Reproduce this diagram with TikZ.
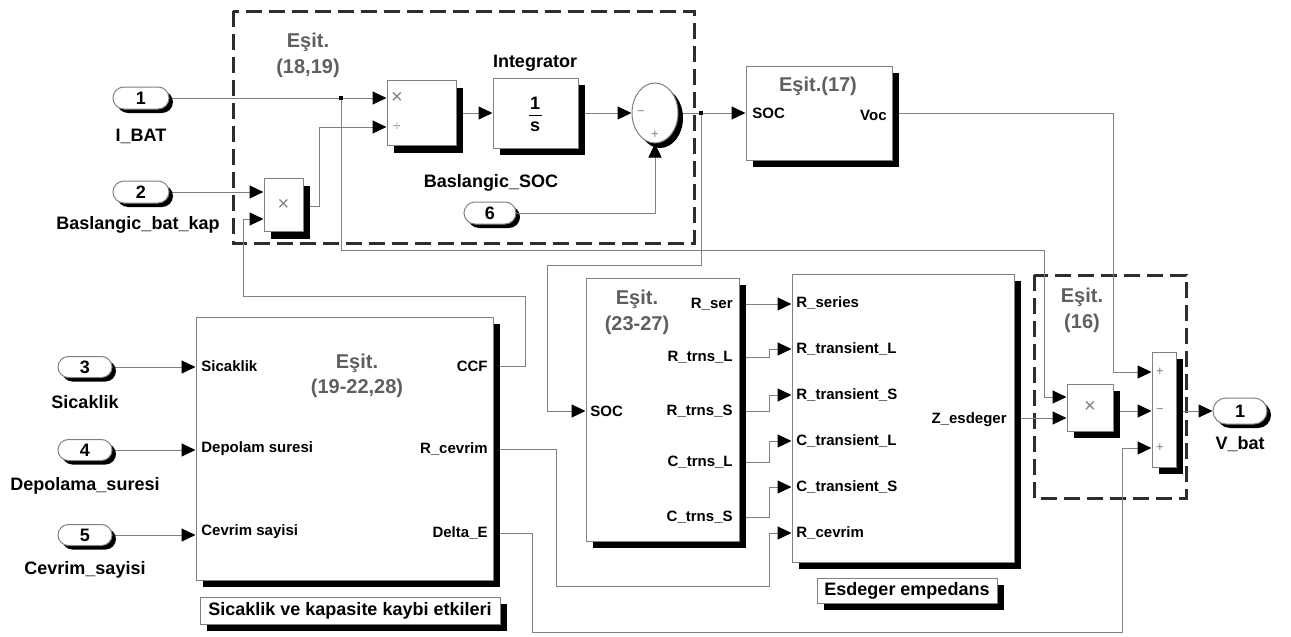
\documentclass[tikz,border=0pt]{standalone}
\usepackage{fontspec}
\setmainfont{Liberation Sans}
\usetikzlibrary{arrows.meta,shapes.misc,shapes.geometric,shadows}
\pgfdeclarelayer{background}
\pgfsetlayers{background,main}
\definecolor{linegray}{RGB}{128,128,128}
\definecolor{titlegray}{RGB}{95,95,95}
\definecolor{dashgray}{RGB}{45,45,45}
\begin{document}
\begin{tikzpicture}[x=0.5pt,y=-0.5pt,
  blk/.style={draw=linegray, fill=white, line width=0.5pt, inner sep=0pt,
    drop shadow={fill=black, opacity=1, shadow xshift=3.5pt, shadow yshift=-3.5pt}},
  sumblk/.style={ellipse, draw=linegray, fill=white, line width=0.5pt, inner sep=0pt,
    drop shadow={fill=black, opacity=1, shadow xshift=2.5pt, shadow yshift=-2.5pt}},
  port/.style={rounded rectangle, draw=linegray, fill=white, line width=0.5pt, inner sep=0pt,
    font=\bfseries\fontsize{9}{11}\selectfont,
    drop shadow={fill=black, opacity=1, shadow xshift=2pt, shadow yshift=-2pt}},
  lbl/.style={font=\bfseries\fontsize{9}{11}\selectfont, inner sep=0pt},
  plbl/.style={font=\bfseries\fontsize{7.5}{9}\selectfont, inner sep=0pt},
  ttl/.style={font=\bfseries\fontsize{10}{12}\selectfont, text=titlegray, inner sep=0pt},
  sym/.style={font=\fontsize{10}{11}\selectfont, text=linegray, inner sep=0pt},
  ssym/.style={font=\fontsize{6.5}{7}\selectfont, text=linegray, inner sep=0pt},
  conn/.style={draw=linegray, line width=0.5pt, -{Triangle[length=7pt,width=6.5pt,color=black]}},
  wire/.style={draw=linegray, line width=0.5pt},
  dbox/.style={draw=dashgray, line width=1.5pt, dash pattern=on 8pt off 3.5pt},
  jdot/.style={fill=black, minimum size=2pt, inner sep=0pt}
]
\useasboundingbox (0,0) rectangle (1291,637);

% ---------- ports ----------
\node[port, minimum width=28pt, minimum height=11pt] (in1) at (141,98) {1};
\node[lbl] (lin1) at (141,136) {I\_BAT};
\node[port, minimum width=28pt, minimum height=11pt] (in2) at (141,192) {2};
\node[lbl] (lin2) at (138,225) {Baslangic\_bat\_kap};
\node[port, minimum width=26pt, minimum height=11pt] (in6) at (490,213) {6};
\node[lbl] (lin6) at (491,183) {Baslangic\_SOC};
\node[port, minimum width=27pt, minimum height=10.5pt] (in3) at (85,367) {3};
\node[lbl] (lin3) at (85,402) {Sicaklik};
\node[port, minimum width=27pt, minimum height=10.5pt] (in4) at (85,450) {4};
\node[lbl] (lin4) at (85,486) {Depolama\_suresi};
\node[port, minimum width=27pt, minimum height=10.5pt] (in5) at (85,535) {5};
\node[lbl] (lin5) at (85,570) {Cevrim\_sayisi};
\node[port, minimum width=27pt, minimum height=13pt] (out1) at (1240,411) {1};
\node[lbl] (lout1) at (1240,444) {V\_bat};

% ---------- top blocks ----------
\node[blk, minimum width=34.5pt, minimum height=32.5pt] (prod1) at (421.5,113) {};
\node[sym] at (397,98) {×};
\node[ssym] at (397,127) {÷};
\node[blk, minimum width=19.5pt, minimum height=26.5pt] (sprod) at (283.5,205) {};
\node[sym] at (283.5,205) {×};
\node[blk, minimum width=42.5pt, minimum height=35pt] (integ) at (535.5,113) {};
\node[lbl] (linteg) at (535,63) {Integrator};
\node[lbl] at (535,103) {1};
\draw[line width=0.5pt] (529,115) -- (542,115);
\node[lbl] at (535,127) {s};
\node[sumblk, minimum width=23pt, minimum height=30pt] (sum1) at (655,113) {};
\node[ssym] at (641,113) {−};
\node[ssym] at (655,135) {+};
\node[blk, minimum width=73pt, minimum height=47pt] (eq17) at (819,113) {};
\node[ttl] at (818,86) {Eşit.(17)};
\node[plbl, anchor=west] at (752,113) {SOC};
\node[plbl, anchor=east] at (887,115) {Voc};
\node[ttl] at (308,42) {Eşit.};
\node[ttl] at (308,68) {(18,19)};

% ---------- bottom left block ----------
\node[blk, minimum width=148.5pt, minimum height=131.5pt] (big1) at (344.5,448.5) {};
\node[ttl] at (357,363) {Eşit.};
\node[ttl] at (357,388) {(19-22,28)};
\node[plbl, anchor=west] (lsic) at (201,366) {Sicaklik};
\node[plbl, anchor=west] (ldep) at (201,449) {Depolam suresi};
\node[plbl, anchor=west] (lcev) at (201,532) {Cevrim sayisi};
\node[plbl, anchor=east] (lccf) at (488,366) {CCF};
\node[plbl, anchor=east] (lrc) at (488,449) {R\_cevrim};
\node[plbl, anchor=east] (lde) at (488,533) {Delta\_E};
\node[blk, lbl, minimum width=150pt, minimum height=13.5pt] (txt1) at (350,610.5) {Sicaklik ve kapasite kaybi etkileri};

% ---------- middle blocks ----------
\node[blk, minimum width=76.5pt, minimum height=131.5pt] (eq23) at (662.5,409.5) {};
\node[ttl] at (637,299) {Eşit.};
\node[ttl] at (637,325) {(23-27)};
\node[plbl, anchor=west] at (590,411) {SOC};
\node[plbl, anchor=east] at (733,304) {R\_ser};
\node[plbl, anchor=east] at (733,357) {R\_trns\_L};
\node[plbl, anchor=east] at (733,411) {R\_trns\_S};
\node[plbl, anchor=east] at (733,462) {C\_trns\_L};
\node[plbl, anchor=east] at (733,517) {C\_trns\_S};

\node[blk, minimum width=111pt, minimum height=144pt] (zblk) at (903,418) {};
\node[plbl, anchor=west] at (796,303) {R\_series};
\node[plbl, anchor=west] at (796,349) {R\_transient\_L};
\node[plbl, anchor=west] at (796,395) {R\_transient\_S};
\node[plbl, anchor=west] at (796,441) {C\_transient\_L};
\node[plbl, anchor=west] at (796,487) {C\_transient\_S};
\node[plbl, anchor=west] at (796,533) {R\_cevrim};
\node[plbl, anchor=east] at (1007,420) {Z\_esdeger};
\node[blk, lbl, minimum width=90pt, minimum height=12.5pt] (txt2) at (907,590.5) {Esdeger empedans};

% ---------- right blocks ----------
\node[ttl] at (1082,297) {Eşit.};
\node[ttl] at (1082,323) {(16)};
\node[blk, minimum width=23pt, minimum height=23.5pt] (prod2) at (1090,407.5) {};
\node[sym] at (1090,407) {×};
\node[blk, minimum width=12pt, minimum height=57.5pt] (sum2) at (1164,409.5) {};
\node[ssym] at (1160,372) {+};
\node[ssym] at (1160,411) {−};
\node[ssym] at (1160,448) {+};

\coordinate (j1) at (341,98);
\coordinate (j2) at (701,113);

% ---------- connectors ----------
\begin{pgfonlayer}{background}
\draw[dbox] (233,11) rectangle (694,243);
\draw[dbox] (1034,275) rectangle (1186,498);
\draw[conn] (in1.east) -- (prod1.west |- in1);
\draw[conn] (j1) |- (1044,250) |- (prod2.west |- 0,397);
\draw[conn] (in2.east) -- (sprod.west |- in2);
\draw[conn] (sprod.east |- 0,206) -- (319,206) |- (prod1.west |- 0,127);
\draw[conn] (big1.east |- lccf) -| (525,296) -| (243,219) -- (sprod.west |- 0,219);
\draw[conn] (prod1.east) -- (integ.west);
\draw[conn] (integ.east) -- (sum1.west);
\draw[conn] (sum1.east) -- (eq17.west);
\draw[conn] (j2) -- (701,265) -| (547,411) -- (eq23.west |- 0,411);
\draw[conn] (eq17.east) -| (1113,372) -- (sum2.west |- 0,372);
\draw[conn] (in3.east) -- (big1.west |- in3);
\draw[conn] (in4.east) -- (big1.west |- in4);
\draw[conn] (in5.east) -- (big1.west |- in5);
\draw[conn] (big1.east |- lrc) -| (556,586) -| (769,533) -- (zblk.west |- 0,533);
\draw[conn] (big1.east |- lde) -| (532,632) -| (1122,448) -- (sum2.west |- 0,448);
\draw[conn] (eq23.east |- 0,304) -- (zblk.west |- 0,304);
\draw[conn] (eq23.east |- 0,357) -| (769,349) -- (zblk.west |- 0,349);
\draw[conn] (eq23.east |- 0,411) -| (769,395) -- (zblk.west |- 0,395);
\draw[conn] (eq23.east |- 0,462) -| (769,441) -- (zblk.west |- 0,441);
\draw[conn] (eq23.east |- 0,517) -| (769,487) -- (zblk.west |- 0,487);
\draw[conn] (zblk.east |- 0,418) -- (prod2.west |- 0,418);
\draw[conn] (prod2.east |- 0,411) -- (sum2.west |- 0,411);
\draw[conn] (sum2.east |- out1) -- (out1.west);
\end{pgfonlayer}
\draw[conn] (in6.east) -| (sum1.south);
\node[jdot] at (j1) {};
\node[jdot] at (j2) {};
\end{tikzpicture}
\end{document}
